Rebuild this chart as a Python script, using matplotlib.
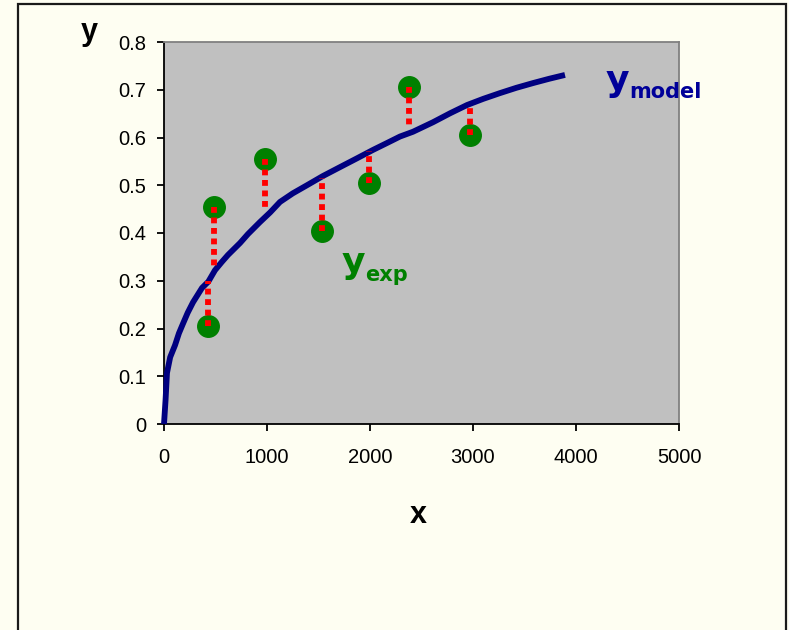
import matplotlib
matplotlib.use("Agg")
import matplotlib.pyplot as plt
from matplotlib.patches import Rectangle

# ---- data ----
x_model = [0, 15, 29, 60, 107, 145, 184, 230, 282, 369, 430, 495, 560, 621,
           738, 816, 932, 1030, 1126, 1250, 1388, 1540, 1709, 1870, 2029,
           2170, 2291, 2417, 2612, 2780, 2942, 3100, 3262, 3420, 3583, 3740,
           3893]
y_model = [0, 0.05, 0.107, 0.14, 0.165, 0.19, 0.21, 0.233, 0.255, 0.285,
           0.298, 0.322, 0.339, 0.354, 0.379, 0.398, 0.423, 0.443, 0.465,
           0.483, 0.50, 0.519, 0.538, 0.556, 0.574, 0.589, 0.602, 0.612,
           0.632, 0.651, 0.668, 0.681, 0.693, 0.704, 0.714, 0.723, 0.731]

x_exp = [430, 490, 980, 1530, 1990, 2380, 2970]
y_exp = [0.205, 0.455, 0.555, 0.405, 0.505, 0.705, 0.605]
y_model_at_exp = [0.30, 0.33, 0.45, 0.515, 0.572, 0.62, 0.665]

x_ticks = [0, 1000, 2000, 3000, 4000, 5000]
y_ticks = [0, 0.1, 0.2, 0.3, 0.4, 0.5, 0.6, 0.7, 0.8]
y_tick_labels = ["0", "0.1", "0.2", "0.3", "0.4", "0.5", "0.6", "0.7", "0.8"]

W, H = 789, 630
plt.rcParams['font.family'] = ['Liberation Sans', 'DejaVu Sans']

fig = plt.figure(figsize=(W / 100, H / 100), dpi=100)
fig.patch.set_facecolor('#FEFEF2')

def fx(px):
    return px / W

def fy(py):
    return 1 - py / H

# outer frame
fig.patches.append(Rectangle((fx(18), fy(660)), fx(786) - fx(18), fy(4) - fy(660),
                             transform=fig.transFigure, fill=False,
                             edgecolor='#1a1a1a', linewidth=1.6))

ax = fig.add_axes([fx(164), fy(424), fx(679) - fx(164), fy(42) - fy(424)])
ax.set_facecolor('#C0C0C0')
ax.set_xlim(0, 5000)
ax.set_ylim(0, 0.8)

for side in ['top', 'right']:
    ax.spines[side].set_color('#808080')
    ax.spines[side].set_linewidth(1.3)
for side in ['left', 'bottom']:
    ax.spines[side].set_color('black')
    ax.spines[side].set_linewidth(1.3)

ax.set_xticks(x_ticks)
ax.set_xticklabels([str(v) for v in x_ticks])
ax.set_yticks(y_ticks)
ax.set_yticklabels(y_tick_labels)
ax.tick_params(axis='both', direction='out', length=5, width=1.3,
               labelsize=14.5, colors='black')
ax.tick_params(axis='x', pad=12)
ax.tick_params(axis='y', pad=8)

# model curve
ax.plot(x_model, y_model, color='#000080', linewidth=4.2, zorder=3,
        solid_joinstyle='round', solid_capstyle='butt', clip_on=False)

# experimental points
ax.plot(x_exp, y_exp, linestyle='none', marker='o', markersize=15.5,
        color='#008000', markeredgecolor='#008000', zorder=4)

# residual lines
for xe, ye, ym in zip(x_exp, y_exp, y_model_at_exp):
    ax.plot([xe, xe], [ye, ym], color='#FF0000', linewidth=4.2,
            linestyle=(0, (1, 0.8)), dash_capstyle='butt', zorder=5)

# axis titles
fig.text(fx(89), fy(40), 'y', fontsize=22, fontweight='bold', ha='center',
         va='baseline', color='black')
fig.text(fx(418), fy(523), 'x', fontsize=22, fontweight='bold', ha='center',
         va='baseline', color='black')

# annotations
fig.text(fx(606), fy(91), 'y', fontsize=26, fontweight='bold', ha='left',
         va='baseline', color='#000099', family='DejaVu Sans')
fig.text(fx(629), fy(98), 'model', fontsize=15, fontweight='bold', ha='left',
         va='baseline', color='#000099', family='DejaVu Sans')

fig.text(fx(342), fy(273), 'y', fontsize=26, fontweight='bold', ha='left',
         va='baseline', color='#008000', family='DejaVu Sans')
fig.text(fx(365), fy(281), 'exp', fontsize=15, fontweight='bold', ha='left',
         va='baseline', color='#008000', family='DejaVu Sans')

fig.savefig('out.png', dpi=100, facecolor=fig.get_facecolor())
